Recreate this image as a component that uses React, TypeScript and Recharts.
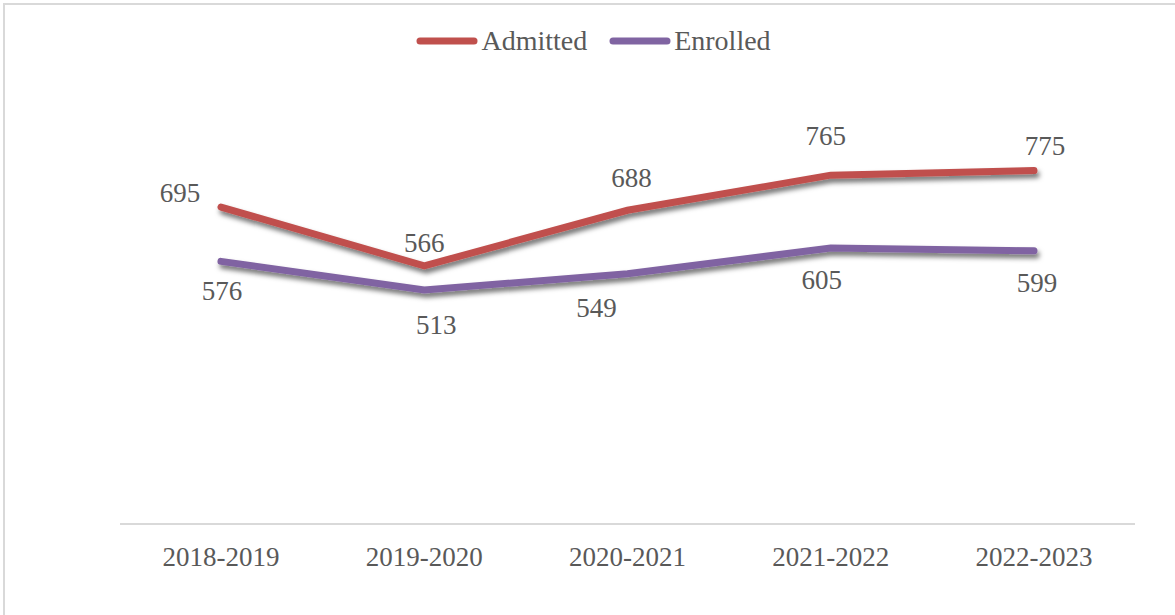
import { LabelList, Line, LineChart, XAxis, YAxis } from "recharts";

const YEARS = ["2018-2019", "2019-2020", "2020-2021", "2021-2022", "2022-2023"];
const ADMITTED = [695, 566, 688, 765, 775];
const ENROLLED = [576, 513, 549, 605, 599];

// label nudges (dx, dy) relative to each point, as placed in the original
const ADMITTED_LABEL_OFFSET: [number, number][] = [
  [-41, -14],
  [0, -23],
  [4, -32],
  [-5, -39],
  [11, -25],
];
const ENROLLED_LABEL_OFFSET: [number, number][] = [
  [1, 30],
  [12, 35],
  [-31, 34],
  [-9, 32],
  [3, 32],
];

const RED = "#C0504D";
const PURPLE = "#8064A2";
const TEXT = "#595959";
const FONT = '"Liberation Serif", "DejaVu Serif", serif';
const AXIS = "#D9D9D9";

const data = YEARS.map((year, i) => ({
  year,
  admitted: ADMITTED[i],
  enrolled: ENROLLED[i],
}));

function makeLabel(offsets: [number, number][]) {
  return (props: any) => {
    const { x, y, value, index } = props;
    const [dx, dy] = offsets[index] ?? [0, 0];
    return (
      <text
        x={Number(x) + dx}
        y={Number(y) + dy}
        textAnchor="middle"
        dominantBaseline="central"
        fill={TEXT}
        fontFamily={FONT}
        fontSize={27}
      >
        {value}
      </text>
    );
  };
}

function LegendItem({ color, label }: { color: string; label: string }) {
  return (
    <div style={{ display: "flex", alignItems: "center", gap: 3 }}>
      <svg width={62} height={10}>
        <line x1={4} y1={5} x2={58} y2={5} stroke={color} strokeWidth={7} strokeLinecap="round" />
      </svg>
      <span style={{ fontFamily: FONT, fontSize: 28, color: TEXT }}>{label}</span>
    </div>
  );
}

export default function App() {
  return (
    <div
      style={{
        position: "absolute",
        left: 3,
        top: 3,
        width: 1180,
        height: 620,
        border: `2px solid ${AXIS}`,
        background: "#fff",
      }}
    >
      <div
        style={{
          position: "absolute",
          top: 20,
          left: 0,
          width: 1177,
          display: "flex",
          justifyContent: "center",
          gap: 22,
          zIndex: 1,
        }}
      >
        <LegendItem color={RED} label="Admitted" />
        <LegendItem color={PURPLE} label="Enrolled" />
      </div>
      <LineChart
        width={1171}
        height={610}
        data={data}
        margin={{ top: 63, right: 41, left: 115, bottom: 51 }}
      >
        <defs>
          <filter id="lineShadow" x="-10%" y="-50%" width="120%" height="200%">
            <feDropShadow dx={2} dy={4} stdDeviation={2.5} floodColor="#000" floodOpacity={0.55} />
          </filter>
        </defs>
        <XAxis
          dataKey="year"
          height={40}
          padding={{ left: 101, right: 101 }}
          tickLine={false}
          tickSize={0}
          tickMargin={23}
          axisLine={{ stroke: AXIS, strokeWidth: 2 }}
          tick={{ fill: TEXT, fontFamily: FONT, fontSize: 27 }}
          interval={0}
        />
        <YAxis hide domain={[0, 1000]} />
        <Line
          type="linear"
          dataKey="admitted"
          name="Admitted"
          stroke={RED}
          strokeWidth={7}
          strokeLinecap="round"
          dot={false}
          filter="url(#lineShadow)"
          isAnimationActive={false}
        >
          <LabelList dataKey="admitted" content={makeLabel(ADMITTED_LABEL_OFFSET)} />
        </Line>
        <Line
          type="linear"
          dataKey="enrolled"
          name="Enrolled"
          stroke={PURPLE}
          strokeWidth={7}
          strokeLinecap="round"
          dot={false}
          filter="url(#lineShadow)"
          isAnimationActive={false}
        >
          <LabelList dataKey="enrolled" content={makeLabel(ENROLLED_LABEL_OFFSET)} />
        </Line>
      </LineChart>
    </div>
  );
}
